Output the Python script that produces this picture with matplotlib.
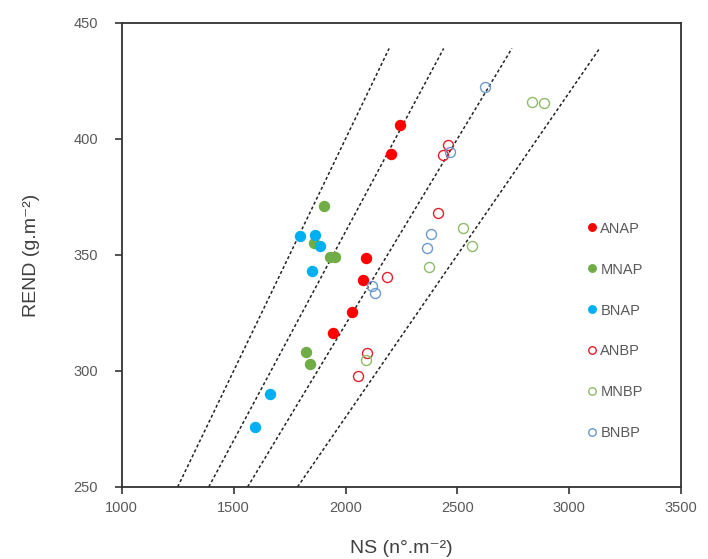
import matplotlib
matplotlib.use('Agg')
import matplotlib.pyplot as plt
import numpy as np

plt.rcParams['font.family'] = ['Liberation Sans', 'DejaVu Sans']

# data (NS, REND)
anap_x = [1946, 2028, 2076, 2091, 2204, 2244]
anap_y = [316.5, 325.5, 339, 348.5, 393.5, 406]
mnap_x = [1824, 1842, 1906, 1931, 1953, 1858]
mnap_y = [308, 303, 371, 349, 349, 355]
bnap_x = [1597, 1663, 1797, 1849, 1864, 1886]
bnap_y = [276, 290, 358, 343, 358.5, 354]
anbp_x = [2058, 2098, 2185, 2413, 2438, 2460]
anbp_y = [298, 307.5, 340.5, 368, 393, 397.5]
mnbp_x = [2091, 2374, 2524, 2567, 2835, 2885]
mnbp_y = [304.5, 345, 361.5, 354, 416, 415.5]
bnbp_x = [2118, 2132, 2363, 2383, 2468, 2624]
bnbp_y = [336.5, 333.5, 353, 359, 394.5, 422.5]

# iso-lines REND = k * NS
line_k = [0.20, 0.18, 0.16, 0.14]
line_y = [250, 439]

fig = plt.figure(figsize=(7.08, 5.59), dpi=100)
ax = fig.add_axes([0.172, 0.129, 0.790, 0.830])

for k in line_k:
    xs = [y / k for y in line_y]
    ax.plot(xs, line_y, color='#222222', lw=1.1, ls=(0, (2, 1.6)), zorder=1)

ms = 7.2
ax.plot(anap_x, anap_y, 'o', ls='none', color='#FF0000', ms=ms, label='ANAP', zorder=3)
ax.plot(mnap_x, mnap_y, 'o', ls='none', color='#70AD47', ms=ms, label='MNAP', zorder=3)
ax.plot(bnap_x, bnap_y, 'o', ls='none', color='#00B0F0', ms=ms, label='BNAP', zorder=3)
ax.plot(anbp_x, anbp_y, 'o', ls='none', mfc='none', mec='#E0202A', mew=1.0, ms=ms, label='ANBP', zorder=3)
ax.plot(mnbp_x, mnbp_y, 'o', ls='none', mfc='none', mec='#8DBB6A', mew=1.0, ms=ms, label='MNBP', zorder=3)
ax.plot(bnbp_x, bnbp_y, 'o', ls='none', mfc='none', mec='#6A9BCF', mew=1.0, ms=ms, label='BNBP', zorder=3)

ax.set_xlim(1000, 3500)
ax.set_ylim(250, 450)
ax.set_xticks([1000, 1500, 2000, 2500, 3000, 3500])
ax.set_yticks([250, 300, 350, 400, 450])

for s in ax.spines.values():
    s.set_linewidth(1.3)
    s.set_color('#333333')
ax.tick_params(direction='out', length=5, width=1.2, color='#333333',
               labelsize=10.5, labelcolor='#595959')
ax.tick_params(axis='y', pad=12)
ax.tick_params(axis='x', pad=5)

ax.set_xlabel('NS (n°.m⁻²)', fontsize=14, color='#404040', labelpad=18)
ax.set_ylabel('REND (g.m⁻²)', fontsize=14, color='#404040', labelpad=24)

leg = ax.legend(loc='center left', bbox_to_anchor=(0.805, 0.336), frameon=False,
                fontsize=10.5, labelspacing=1.85, handletextpad=0.05, handlelength=1.0,
                markerscale=0.75)
for t in leg.get_texts():
    t.set_color('#595959')

fig.savefig('out.png', dpi=100)
